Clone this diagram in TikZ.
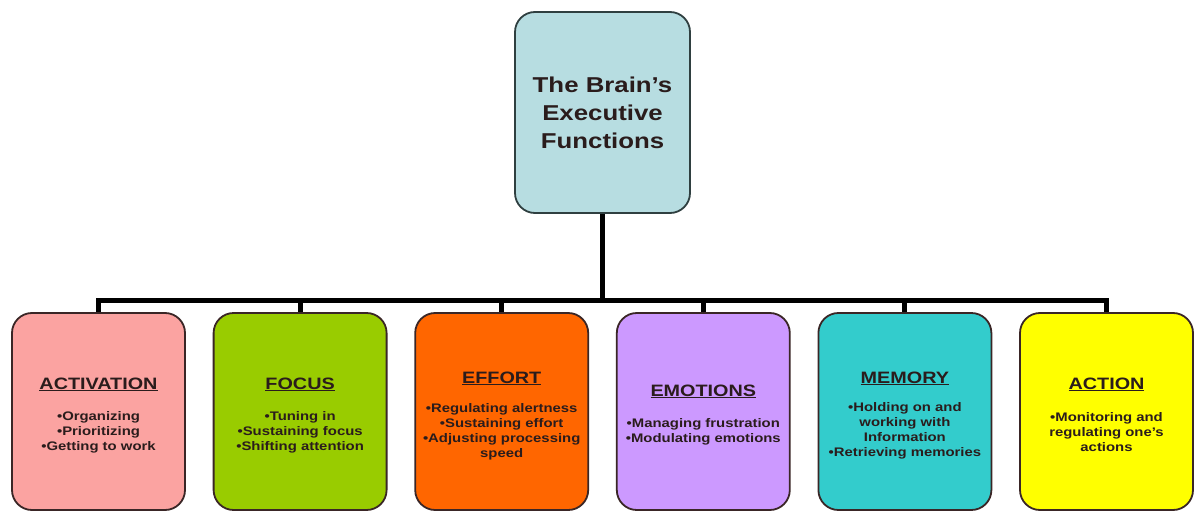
\documentclass[tikz,border=0pt]{standalone}
\usepackage{fontspec}
\setmainfont[FakeStretch=1.2]{Liberation Sans}
\usetikzlibrary{backgrounds}
\definecolor{cTop}{HTML}{B7DDE1}
\definecolor{cAct}{HTML}{FBA3A1}
\definecolor{cFoc}{HTML}{99CC00}
\definecolor{cEff}{HTML}{FF6600}
\definecolor{cEmo}{HTML}{CC99FF}
\definecolor{cMem}{HTML}{33CCCC}
\definecolor{cAcn}{HTML}{FFFF00}
\definecolor{boxline}{HTML}{3A2626}
\definecolor{topline}{HTML}{2F3F40}
\definecolor{txt}{HTML}{2A1C1C}
\newcommand\ulin[1]{\setbox0\hbox{#1}\rlap{\rule[-2.2pt]{\wd0}{1.3pt}}\box0}
\begin{document}
\begin{tikzpicture}[x=1pt,y=-1pt,
  box/.style={draw=boxline, line width=1.8pt, rounded corners=20pt,
    minimum width=173pt, minimum height=197pt, inner sep=0pt},
  topbox/.style={box, draw=topline, minimum width=175pt, minimum height=201pt, fill=cTop},
  conn/.style={line width=5pt, draw=black},
  ttl/.style={font=\fontsize{16.5}{19}\selectfont\bfseries, text=txt, anchor=base, inner sep=0pt},
  bul/.style={font=\fontsize{12.4}{15}\selectfont\bfseries, text=txt, align=center, inner sep=0pt},
  toptxt/.style={font=\fontsize{21.5}{28}\selectfont\bfseries, text=txt, align=center, inner sep=0pt}]
\useasboundingbox (0,0) rectangle (1195,511);

\node[topbox] (top) at (602.5,112.5) {};
\node[toptxt] (topT) at (602.5,113) {The Brain's\\Executive\\Functions};

\node[box, fill=cAct] (act) at (98.5,411.5) {};
\node[box, fill=cFoc] (foc) at (300.1,411.5) {};
\node[box, fill=cEff] (eff) at (501.7,411.5) {};
\node[box, fill=cEmo] (emo) at (703.3,411.5) {};
\node[box, fill=cMem] (mem) at (904.9,411.5) {};
\node[box, fill=cAcn] (acn) at (1106.5,411.5) {};

\node[ttl] (actT) at (98.5,389) {\ulin{ACTIVATION}};
\node[ttl] (focT) at (300.1,389) {\ulin{FOCUS}};
\node[ttl] (effT) at (501.7,383) {\ulin{EFFORT}};
\node[ttl] (emoT) at (703.3,396) {\ulin{EMOTIONS}};
\node[ttl] (memT) at (904.9,383) {\ulin{MEMORY}};
\node[ttl] (acnT) at (1106.5,389) {\ulin{ACTION}};

\node[bul] (actB) at (98.5,432) {•Organizing\\•Prioritizing\\•Getting to work};
\node[bul] (focB) at (300.1,432) {•Tuning in\\•Sustaining focus\\•Shifting attention};
\node[bul] (effB) at (501.7,432) {•Regulating alertness\\•Sustaining effort\\•Adjusting processing\\speed};
\node[bul] (emoB) at (703.3,432) {•Managing frustration\\•Modulating emotions};
\node[bul] (memB) at (904.9,431) {•Holding on and\\working with\\Information\\•Retrieving memories};
\node[bul] (acnB) at (1106.5,432) {•Monitoring and\\regulating one's\\actions};

\coordinate (bar) at (602.5,300);
\begin{scope}[on background layer]
\draw[conn] (top.south) -- (bar);
\draw[conn] (bar) -| (act.north);
\draw[conn] (bar) -| (foc.north);
\draw[conn] (bar) -| (eff.north);
\draw[conn] (bar) -| (emo.north);
\draw[conn] (bar) -| (mem.north);
\draw[conn] (bar) -| (acn.north);
\end{scope}
\end{tikzpicture}
\end{document}
